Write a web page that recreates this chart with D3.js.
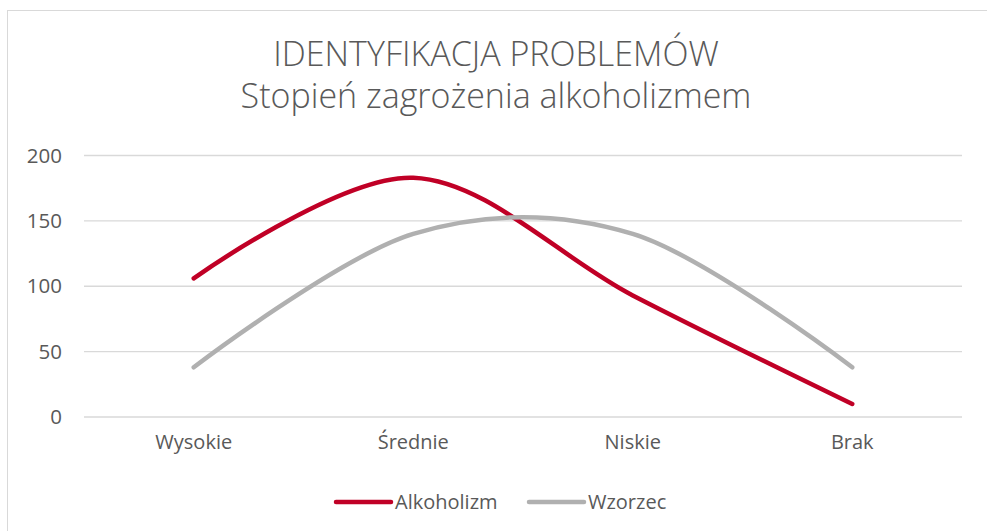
<!DOCTYPE html>
<meta charset="utf-8">
<title>Identyfikacja problemów</title>
<style>
body { margin: 0; background: #fff; }
text { font-family: "Open Sans", sans-serif; fill: #595959; }
</style>
<svg width="987" height="531"></svg>
<script src="https://cdn.jsdelivr.net/npm/d3@7"></script>
<script>
var categories = ["Wysokie", "Średnie", "Niskie", "Brak"];
var alkoholizm = [106, 183, 93, 10];
var wzorzec = [38, 140, 140, 38];
var yTicks = [0, 50, 100, 150, 200];
var seriesNames = ["Alkoholizm", "Wzorzec"];
var seriesColors = ["#C00026", "#B0B0B0"];

var svg = d3.select("svg"),
    width = +svg.attr("width"),
    height = +svg.attr("height");

// chart frame
svg.append("rect")
    .attr("x", 7.5).attr("y", 10.5)
    .attr("width", 1000).attr("height", 600)
    .attr("fill", "none")
    .attr("stroke", "#D9D9D9");

// title
var title = svg.append("text")
    .attr("text-anchor", "middle")
    .style("font-size", "34px")
    .style("font-weight", "300");
title.append("tspan").attr("x", 496).attr("y", 66).text("IDENTYFIKACJA PROBLEMÓW");
title.append("tspan").attr("x", 496).attr("y", 108).text("Stopień zagrożenia alkoholizmem");

var x = d3.scaleBand().domain(categories).range([84, 962]);
var y = d3.scaleLinear().domain([0, 200]).range([417, 155.5]);

// gridlines
svg.append("g")
    .attr("class", "grid")
  .selectAll("line")
  .data(yTicks)
  .enter().append("line")
    .attr("x1", 84).attr("x2", 962)
    .attr("y1", function(d) { return y(d); })
    .attr("y2", function(d) { return y(d); })
    .attr("stroke", "#D9D9D9")
    .attr("stroke-width", 1.3);

// y axis labels
var yAxis = d3.axisLeft(y).tickValues(yTicks).tickSize(0).tickPadding(0);
svg.append("g")
    .attr("transform", "translate(62,0)")
    .call(yAxis)
    .call(function(g) { g.select(".domain").remove(); })
    .selectAll("text")
    .style("font-size", "20.5px")
    .attr("fill", "#595959");

// x axis labels
var xAxis = d3.axisBottom(x).tickSize(0).tickPadding(0);
svg.append("g")
    .attr("transform", "translate(0,435)")
    .call(xAxis)
    .call(function(g) { g.select(".domain").remove(); })
    .selectAll("text")
    .style("font-size", "20px")
    .attr("fill", "#595959");

var line = d3.line()
    .x(function(d, i) { return x(categories[i]) + x.bandwidth() / 2; })
    .y(function(d) { return y(d); })
    .curve(d3.curveCardinal.tension(0));

[alkoholizm, wzorzec].forEach(function(vals, i) {
  svg.append("path")
      .datum(vals)
      .attr("d", line)
      .attr("fill", "none")
      .attr("stroke", seriesColors[i])
      .attr("stroke-width", 4.5)
      .attr("stroke-linecap", "round");
});

// legend
var legendX = [336, 529];
var legend = svg.append("g").selectAll("g")
    .data(seriesNames)
  .enter().append("g")
    .attr("transform", function(d, i) { return "translate(" + legendX[i] + ",502)"; });

legend.append("line")
    .attr("x1", 0).attr("x2", 55)
    .attr("stroke", function(d, i) { return seriesColors[i]; })
    .attr("stroke-width", 4.5)
    .attr("stroke-linecap", "round");

legend.append("text")
    .attr("x", 59)
    .attr("dy", "0.35em")
    .style("font-size", "20px")
    .text(function(d) { return d; });
</script>
